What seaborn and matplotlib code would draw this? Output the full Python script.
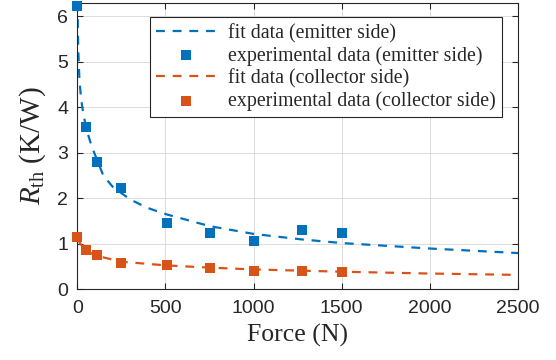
import matplotlib
matplotlib.use("Agg")
import matplotlib.pyplot as plt
import seaborn as sns
import pandas as pd

# experimental data
force_exp = [0, 49, 113, 248, 509, 753, 1002, 1273, 1500]
r_emitter_exp = [6.22, 3.55, 2.79, 2.21, 1.45, 1.22, 1.06, 1.30, 1.22]
r_collector_exp = [1.15, 0.86, 0.75, 0.565, 0.53, 0.47, 0.40, 0.40, 0.38]

# fit curves
force_fit_e = [1, 3, 6, 12, 20, 28, 49, 82, 147, 200, 299, 400, 507, 753, 1002, 1273, 1500, 2000, 2500]
r_emitter_fit = [6.3, 5.7, 5.2, 4.6, 4.25, 4.0, 3.55, 3.13, 2.5, 2.25, 1.97, 1.78, 1.64, 1.38, 1.21, 1.09, 1.01, 0.89, 0.79]
force_fit_c = [0, 20, 50, 100, 250, 500, 750, 1000, 1500, 2000, 2500]
r_collector_fit = [1.12, 0.98, 0.85, 0.74, 0.60, 0.52, 0.47, 0.43, 0.38, 0.34, 0.31]

x_ticks = [0, 500, 1000, 1500, 2000, 2500]
y_ticks = [0, 1, 2, 3, 4, 5, 6]

blue = "#0072BD"
orange = "#D95319"

sns.set_theme(style="white")
plt.rcParams["font.family"] = ["Liberation Sans", "DejaVu Sans"]
plt.rcParams["mathtext.fontset"] = "custom"
plt.rcParams["mathtext.rm"] = "Liberation Serif"
plt.rcParams["mathtext.it"] = "Liberation Serif:italic"

fig = plt.figure(figsize=(5.56, 3.6), dpi=100)
ax = fig.add_axes([77.3 / 556, (360 - 289) / 360, 440.7 / 556, 285.7 / 360])

ax.grid(True, color="#dcdcdc", lw=0.7)
ax.set_axisbelow(True)

df_fe = pd.DataFrame({"x": force_fit_e, "y": r_emitter_fit})
df_fc = pd.DataFrame({"x": force_fit_c, "y": r_collector_fit})
df_ee = pd.DataFrame({"x": force_exp, "y": r_emitter_exp})
df_ec = pd.DataFrame({"x": force_exp, "y": r_collector_exp})

sns.lineplot(data=df_fe, x="x", y="y", ax=ax, color=blue, lw=1.6, ls=(0, (4, 3.5)),
             label="fit data (emitter side)", sort=False)
sns.scatterplot(data=df_ee, x="x", y="y", ax=ax, color=blue, marker="s", s=45, linewidth=0,
                label="experimental data (emitter side)", zorder=3, clip_on=False)
sns.lineplot(data=df_fc, x="x", y="y", ax=ax, color=orange, lw=1.6, ls=(0, (4, 3.5)),
             label="fit data (collector side)", sort=False)
sns.scatterplot(data=df_ec, x="x", y="y", ax=ax, color=orange, marker="s", s=45, linewidth=0,
                label="experimental data (collector side)", zorder=3, clip_on=False)

ax.set_xlim(0, 2500)
ax.set_ylim(0, 6.28)
ax.set_xticks(x_ticks)
ax.set_yticks(y_ticks)
ax.set_xticklabels([str(t) for t in x_ticks], fontsize=14, color="#262626")
ax.set_yticklabels([str(t) for t in y_ticks], fontsize=14, color="#262626")
ax.tick_params(direction="in", length=4, width=0.8, color="#262626",
               top=True, right=True, bottom=True, left=True)
ax.tick_params(axis="x", pad=8)
ax.tick_params(axis="y", pad=6.5)
for sp in ax.spines.values():
    sp.set_color("#262626")
    sp.set_linewidth(0.8)

ax.set_xlabel("Force (N)", fontsize=18.5, family="Liberation Serif", color="#262626", labelpad=5)
ax.set_ylabel(r"$R_{\mathrm{th}}$ (K/W)", fontsize=21, family="Liberation Serif", color="#262626", labelpad=7)

leg = ax.legend(loc="upper right", bbox_to_anchor=(0.964, 0.952), borderaxespad=0,
                prop={"family": "Liberation Serif", "size": 14.3}, frameon=True, fancybox=False,
                edgecolor="#262626", framealpha=1, handlelength=3.0, labelspacing=0.15,
                borderpad=0.33, handletextpad=0.6)
leg.get_frame().set_linewidth(0.8)

fig.savefig("out.png", dpi=100)
